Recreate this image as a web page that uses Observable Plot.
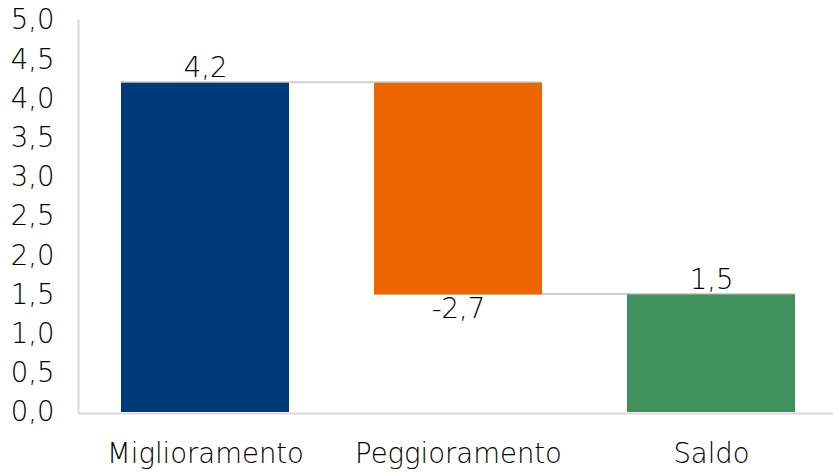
<!DOCTYPE html>
<html>
<head>
<meta charset="utf-8">
<script src="https://cdn.jsdelivr.net/npm/d3@7"></script>
<script src="https://cdn.jsdelivr.net/npm/@observablehq/plot@0.6"></script>
<style>
  html, body { margin: 0; padding: 0; background: #fff; }
  #chart { width: 833px; height: 473px; overflow: hidden; }
</style>
</head>
<body>
<div id="chart"></div>
<script>
const categories = ["Miglioramento", "Peggioramento", "Saldo"];
const values = [4.2, -2.7, 1.5];
const kinds = ["step", "step", "total"];
const colors = ["#003B79", "#EE6600", "#41915E"];
const yTicks = [0, 0.5, 1, 1.5, 2, 2.5, 3, 3.5, 4, 4.5, 5];

const it = d3.formatLocale({decimal: ",", thousands: ".", grouping: [3], currency: ["", "€"], minus: "-"});
const fmt = it.format(".1f");

// Build waterfall table
let running = 0;
const rows = categories.map((c, i) => {
  let y1, y2;
  if (kinds[i] === "total") { y1 = 0; y2 = values[i]; running = values[i]; }
  else { y1 = running; y2 = running + values[i]; running = y2; }
  return {cat: c, value: values[i], y1, y2, top: Math.max(y1, y2), bottom: Math.min(y1, y2), color: colors[i]};
});
const connectors = rows.slice(0, -1).map((r, i) => ({from: r.cat, to: rows[i + 1].cat, y: r.y2}));

const font = "'DejaVu Sans', sans-serif";
const fs = 27.5;
const fw = 200;

const chart = Plot.plot({
  width: 833,
  height: 473,
  marginLeft: 78,
  marginRight: -6,
  marginTop: 20,
  marginBottom: 61,
  style: {fontFamily: font, fontSize: fs + "px", fontWeight: fw, color: "#000", background: "#fff"},
  x: {domain: categories, paddingInner: 0.335, paddingOuter: 0.1675, axis: null},
  y: {domain: [0, 5], axis: null},
  marks: [
    Plot.ruleY(connectors, {x1: "from", x2: "to", y: "y", stroke: "#cfcfcf", strokeWidth: 2, dy: -1}),
    Plot.barY(rows, {x: "cat", y1: "y1", y2: "y2", fill: "color"}),
    Plot.ruleY([0], {stroke: "#d9d9d9", strokeWidth: 2, dy: 1}),
    Plot.frame({anchor: "left", stroke: "#d9d9d9", strokeWidth: 2}),
    Plot.text(yTicks, {frameAnchor: "left", y: d => d, text: d => fmt(d), textAnchor: "end", dx: -24, fontSize: fs, fontWeight: fw, fill: "#000"}),
    Plot.text(categories, {x: d => d, y: 0, text: d => d, lineAnchor: "middle", dy: 42, fontSize: fs, fontWeight: fw, fill: "#000"}),
    Plot.text(rows.filter(r => r.value >= 0), {x: "cat", y: "top", text: d => fmt(d.value), lineAnchor: "bottom", dy: -6, fontSize: fs, fontWeight: fw, fill: "#000"}),
    Plot.text(rows.filter(r => r.value < 0), {x: "cat", y: "bottom", text: d => fmt(d.value), lineAnchor: "top", dy: 4, fontSize: fs, fontWeight: fw, fill: "#000"})
  ]
});
document.getElementById("chart").appendChild(chart);
</script>
</body>
</html>
